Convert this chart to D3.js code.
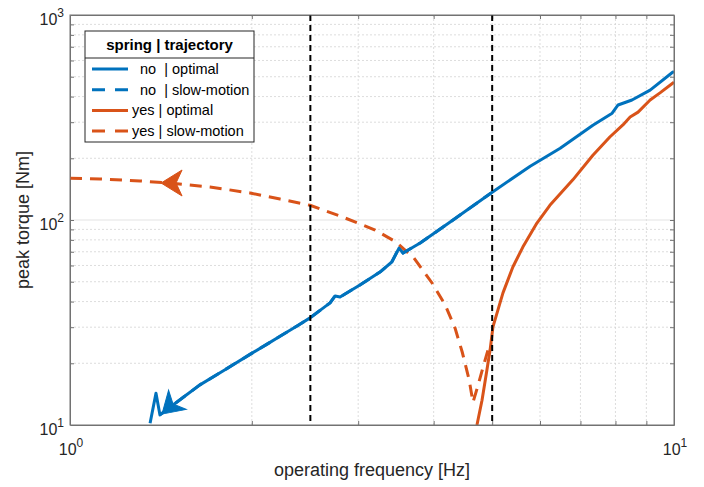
<!DOCTYPE html>
<html><head><meta charset="utf-8">
<script src="https://cdn.jsdelivr.net/npm/d3@7"></script>
<style>
html,body{margin:0;padding:0;background:#fff;}
svg{display:block;font-family:"Liberation Sans",Arial,Helvetica,sans-serif;}
</style></head>
<body>
<svg id="chart" width="704" height="487"></svg>
<script>
// ---- data (frequency in Hz, peak torque in Nm) ----
const noOptF = [1.357,1.388,1.409,1.464,1.55,1.641,1.80,1.986,2.12,2.227,2.38,2.497,2.695,2.747,2.80,3.02,3.26,3.41,3.505,3.56,3.80,4.26,4.98,5.78,6.48,7.34,7.90,8.08,8.52,9.13,9.96,10];
const noOptT = [10.2,14.3,11.2,12.2,13.85,15.7,18.5,22.1,24.8,27.1,30.5,33.3,39.4,42.6,42.1,48.2,55.7,62.4,72.9,69.0,77.3,97.7,135.5,183,224,290,332,364,385,430,527,530];
const noSlowF = [1.409,1.464,1.55,1.641,1.80,1.986,2.12,2.227,2.38,2.497,2.695,2.747,2.80,3.02,3.26,3.41,3.505,3.56,3.80,4.26,4.98];
const noSlowT = [11.2,12.2,13.85,15.7,18.5,22.1,24.8,27.1,30.5,33.3,39.4,42.6,42.1,48.2,55.7,62.4,72.9,69.0,77.3,97.7,135.5];
const yesOptF = [4.718,4.81,4.90,4.96,5.015,5.21,5.41,5.62,5.93,6.23,6.80,7.34,7.83,8.23,8.46,8.72,9.13,9.48,9.96,10];
const yesOptT = [10,13.2,18.5,23.2,30.1,44.1,59.0,73.8,96.6,118,157,207,254,291,318,336,385,417,466,470];
const yesSlowF = [1,1.121,1.306,1.475,1.705,1.986,2.227,2.497,2.8,3.2,3.465,3.71,3.976,4.18,4.34,4.46,4.58,4.647,4.74,4.83,4.92];
const yesSlowT = [160,158.5,155,151,145,135.5,126.5,118,104.6,89.3,78.2,65.3,49.3,38.5,29.7,22.7,16.6,12.9,15.7,19.2,23.2];
const markerFreqs = [2.5, 5];
const xTicks = [1, 10];
const xTickLabels = ["10|0", "10|1"];
const yTicks = [10, 100, 1000];
const yTickLabels = ["10|1", "10|2", "10|3"];
const seriesNames = ["  no  | optimal", "  no  | slow-motion", "yes | optimal", "yes | slow-motion"];
const legendTitle = "spring | trajectory";
// arrows: [fromF, fromT, toF, toT]
const arrowBlue = [1.52, 13.6, 1.42, 11.3];
const arrowOrange = [1.6, 151.5, 1.415, 151.5];

// ---- layout ----
const W = 704, H = 487;
const L = 70, R = 674, T = 15, B = 425;
const blue = "#0072BD", orange = "#D95319";
const svg = d3.select("#chart");
const x = d3.scaleLog().domain([1, 10]).range([L, R]);
const y = d3.scaleLog().domain([10, 1000]).range([B, T]);

const minorX = d3.range(2, 10);
const minorY = [20,30,40,50,60,70,80,90,200,300,400,500,600,700,800,900];

// grid
const g = svg.append("g");
g.selectAll(".gx").data(minorX).join("line")
  .attr("x1", d => x(d)).attr("x2", d => x(d)).attr("y1", T).attr("y2", B)
  .attr("stroke", "#d4d4d4").attr("stroke-width", 0.8).attr("stroke-dasharray", "2,2");
g.selectAll(".gy").data(minorY).join("line")
  .attr("y1", d => y(d)).attr("y2", d => y(d)).attr("x1", L).attr("x2", R)
  .attr("stroke", "#d4d4d4").attr("stroke-width", 0.8).attr("stroke-dasharray", "2,2");
g.append("line").attr("x1", L).attr("x2", R).attr("y1", y(100)).attr("y2", y(100))
  .attr("stroke", "#e3e3e3").attr("stroke-width", 1);

// axes ticks (inward) on all sides
const axCol = "#737373";
function styleAxis(sel) {
  sel.selectAll("path").attr("stroke", axCol).attr("stroke-width", 1);
  sel.selectAll("line").attr("stroke", axCol).attr("stroke-width", 1);
  sel.selectAll("text").remove();
}
svg.append("g").attr("transform", `translate(0,${B})`)
  .call(d3.axisBottom(x).tickValues(minorX).tickSizeInner(-4).tickSizeOuter(0).tickFormat("")).call(styleAxis);
svg.append("g").attr("transform", `translate(0,${T})`)
  .call(d3.axisTop(x).tickValues(minorX).tickSizeInner(-4).tickSizeOuter(0).tickFormat("")).call(styleAxis);
svg.append("g").attr("transform", `translate(${L},0)`)
  .call(d3.axisLeft(y).tickValues(minorY.concat([100])).tickSizeInner(-4).tickSizeOuter(0).tickFormat("")).call(styleAxis);
svg.append("g").attr("transform", `translate(${R},0)`)
  .call(d3.axisRight(y).tickValues(minorY.concat([100])).tickSizeInner(-4).tickSizeOuter(0).tickFormat("")).call(styleAxis);

// tick labels
const txtCol = "#262626";
function supLabel(sel, lbl) {
  const [base, exp] = lbl.split("|");
  sel.append("tspan").text(base);
  sel.append("tspan").attr("dy", -8).attr("font-size", 12).text(exp);
}
xTicks.forEach((v, i) => {
  const t = svg.append("text").attr("x", x(v) + 1).attr("y", B + 30)
    .attr("text-anchor", "middle").attr("font-size", 16).attr("fill", txtCol);
  supLabel(t, xTickLabels[i]);
});
yTicks.forEach((v, i) => {
  const t = svg.append("text").attr("x", 64).attr("y", y(v) + 10)
    .attr("text-anchor", "end").attr("font-size", 16).attr("fill", txtCol);
  supLabel(t, yTickLabels[i]);
});

// axis titles
svg.append("text").attr("x", (L + R) / 2).attr("y", 476).attr("text-anchor", "middle")
  .attr("font-size", 18).attr("fill", txtCol).text("operating frequency [Hz]");
svg.append("text").attr("transform", `translate(29,${(T + B) / 2}) rotate(-90)`)
  .attr("text-anchor", "middle").attr("font-size", 18).attr("fill", txtCol).text("peak torque [Nm]");

// curves
const clip = svg.append("clipPath").attr("id", "clip").append("rect")
  .attr("x", L).attr("y", T).attr("width", R - L).attr("height", B - T);
const line = d3.line().x(d => x(d[0])).y(d => y(d[1]));
const zip = (a, b) => a.map((v, i) => [v, b[i]]);
const curves = svg.append("g").attr("clip-path", "url(#clip)");
curves.append("path").attr("d", line(zip(yesOptF, yesOptT))).attr("fill", "none")
  .attr("stroke", orange).attr("stroke-width", 3).attr("stroke-linejoin", "round");
curves.append("path").attr("d", line(zip(yesSlowF, yesSlowT))).attr("fill", "none")
  .attr("stroke", orange).attr("stroke-width", 3).attr("stroke-dasharray", "12,8");
curves.append("path").attr("d", line(zip(noOptF, noOptT))).attr("fill", "none")
  .attr("stroke", blue).attr("stroke-width", 3).attr("stroke-linejoin", "round");
curves.append("path").attr("d", line(zip(noSlowF, noSlowT))).attr("fill", "none")
  .attr("stroke", blue).attr("stroke-width", 3).attr("stroke-dasharray", "12,8");

// arrowheads
function arrow(a, col) {
  const x0 = x(a[0]), y0 = y(a[1]), x1 = x(a[2]), y1 = y(a[3]);
  const ang = Math.atan2(y1 - y0, x1 - x0) * 180 / Math.PI;
  svg.append("path").attr("d", "M0,0 L-21,-13 L-15,0 L-21,13 Z")
    .attr("transform", `translate(${x1},${y1}) rotate(${ang})`)
    .attr("fill", col).attr("stroke", col).attr("stroke-width", 1).attr("stroke-linejoin", "miter");
}
arrow(arrowBlue, blue);
arrow(arrowOrange, orange);

// vertical dashed markers
svg.selectAll(".vm").data(markerFreqs).join("line")
  .attr("x1", d => x(d)).attr("x2", d => x(d)).attr("y1", T).attr("y2", B)
  .attr("stroke", "#000").attr("stroke-width", 2).attr("stroke-dasharray", "6,4");

// box
svg.append("rect").attr("x", L).attr("y", T).attr("width", R - L).attr("height", B - T)
  .attr("fill", "none").attr("stroke", axCol).attr("stroke-width", 1);

// legend
const lg = svg.append("g");
const lx = 85, ly = 31, lw = 169, lh = 111;
lg.append("rect").attr("x", lx).attr("y", ly).attr("width", lw).attr("height", lh)
  .attr("fill", "#fff").attr("stroke", "#262626").attr("stroke-width", 1);
lg.append("line").attr("x1", lx).attr("x2", lx + lw).attr("y1", 58).attr("y2", 58)
  .attr("stroke", "#262626").attr("stroke-width", 1);
lg.append("text").attr("x", lx + lw / 2).attr("y", 50).attr("text-anchor", "middle")
  .attr("font-size", 15).attr("font-weight", "bold").attr("fill", "#000").text(legendTitle);
const styles = [[blue, null], [blue, "13,10"], [orange, null], [orange, "13,10"]];
seriesNames.forEach((n, i) => {
  const yy = 69 + i * 20.7;
  lg.append("line").attr("x1", 92).attr("x2", 128).attr("y1", yy).attr("y2", yy)
    .attr("stroke", styles[i][0]).attr("stroke-width", 3)
    .attr("stroke-dasharray", styles[i][1]);
  lg.append("text").attr("x", 132).attr("y", yy + 5).attr("font-size", 14.5)
    .attr("fill", "#000").attr("xml:space", "preserve").style("white-space", "pre").text(n);
});
</script>
</body></html>
